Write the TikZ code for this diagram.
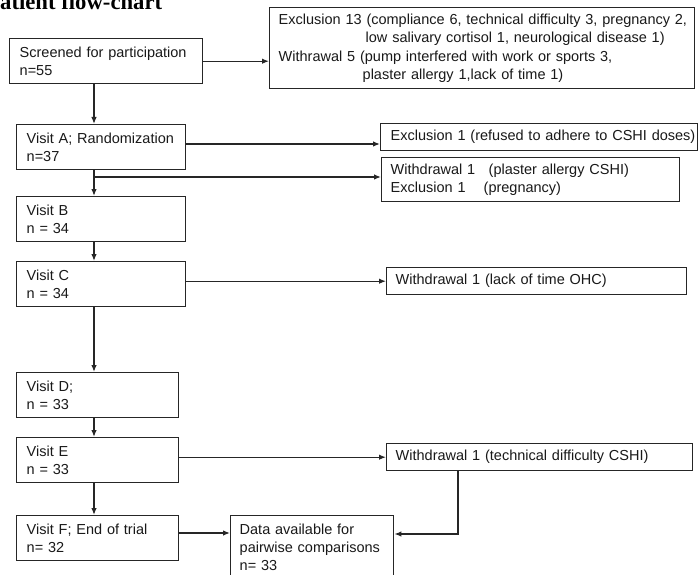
\documentclass[tikz,border=0pt]{standalone}
\usepackage{fontspec}
\setmainfont{Liberation Sans}
\newfontfamily\titlefont{Liberation Serif}
\usetikzlibrary{arrows.meta}
\begin{document}
\begin{tikzpicture}[x=1pt,y=-1pt,
  box/.style={draw=black!85, line width=1.4pt, anchor=north west, align=left,
    inner xsep=10pt, inner ysep=0pt, font=\fontsize{14.5}{18.3}\selectfont, text=black!90},
  arr/.style={draw=black!85, line width=1.3pt, -{Latex[length=7pt,width=5.5pt]}},
]
\clip (0,0) rectangle (699,575);
\fill[white] (0,0) rectangle (699,575);

\node[anchor=base west, inner sep=0pt, font=\titlefont\bfseries\fontsize{22.7}{27}\selectfont] (title) at (0,9.5) {atient flow-chart};

\node[box, minimum width=193pt, minimum height=45pt, text width=173pt] (scr) at (9,38)
  {\mbox{Screened for participation}\\n=55};
\node[box, inner xsep=9pt, minimum width=425pt, minimum height=81pt, text width=407pt] (excl) at (269,7)
  {\mbox{Exclusion 13 (compliance 6, technical difficulty 3, pregnancy 2,}\\
   \hspace*{87pt}\mbox{low salivary cortisol 1, neurological disease 1)}\\
   \mbox{Withrawal 5 (pump interfered with work or sports 3,}\\
   \hspace*{84pt}\mbox{plaster allergy 1,lack of time 1)}};
\node[box, minimum width=169pt, minimum height=45pt, text width=149pt] (visA) at (16,124)
  {\mbox{Visit A; Randomization}\\n=37};
\node[box, minimum width=317pt, minimum height=27pt, text width=297pt] (exc1) at (380,123)
  {\mbox{Exclusion 1 (refused to adhere to CSHI doses)}};
\node[box, inner xsep=9pt, minimum width=298pt, minimum height=44pt, text width=280pt] (wd1) at (381,157)
  {\makebox[98pt][l]{Withdrawal 1}(plaster allergy CSHI)\\\makebox[93pt][l]{Exclusion 1}(pregnancy)};
\node[box, minimum width=169pt, minimum height=45pt, text width=149pt] (visB) at (16,196)
  {Visit B\\n = 34};
\node[box, minimum width=169pt, minimum height=45pt, text width=149pt] (visC) at (16,261)
  {Visit C\\n = 34};
\node[box, inner xsep=9pt, minimum width=300pt, minimum height=27pt, text width=282pt] (wd2) at (386,267)
  {\mbox{Withdrawal 1 (lack of time OHC)}};
\node[box, minimum width=162pt, minimum height=45pt, text width=142pt] (visD) at (16,372)
  {Visit D;\\n = 33};
\node[box, minimum width=162pt, minimum height=45pt, text width=142pt] (visE) at (16,437)
  {Visit E\\n = 33};
\node[box, inner xsep=9pt, minimum width=306pt, minimum height=27pt, text width=288pt] (wd3) at (386,443)
  {\mbox{Withdrawal 1 (technical difficulty CSHI)}};
\node[box, minimum width=162pt, minimum height=45pt, text width=142pt] (visF) at (16,515)
  {\mbox{Visit F; End of trial}\\n= 32};
\node[box, inner xsep=9pt, minimum width=163pt, minimum height=63pt, text width=145pt] (data) at (230,515)
  {\mbox{Data available for}\\\mbox{pairwise comparisons}\\n= 33};

\coordinate (col) at (94,0);
\coordinate (ya) at (0,144);
\coordinate (yb) at (0,177);
\coordinate (yf) at (0,533);
\coordinate (j) at (458,534);

\draw[arr] (scr.east) -- (scr.east -| excl.west);
\draw[arr] (scr.south -| col) -- (visA.north -| col);
\draw[arr] (visA.east |- ya) -- (exc1.west |- ya);
\draw[arr] (visA.south -| col) -- (visB.north -| col);
\draw[arr] (col |- yb) -- (wd1.west |- yb);
\draw[arr] (visB.south -| col) -- (visC.north -| col);
\draw[arr] (visC.east |- wd2.west) -- (wd2.west);
\draw[arr] (visC.south -| col) -- (visD.north -| col);
\draw[arr] (visD.south -| col) -- (visE.north -| col);
\draw[arr] (visE.east |- wd3.west) -- (wd3.west);
\draw[arr] (visE.south -| col) -- (visF.north -| col);
\draw[arr] (visF.east |- yf) -- (data.west |- yf);
\draw[arr] (wd3.south -| j) |- (data.east |- j);
\end{tikzpicture}
\end{document}
